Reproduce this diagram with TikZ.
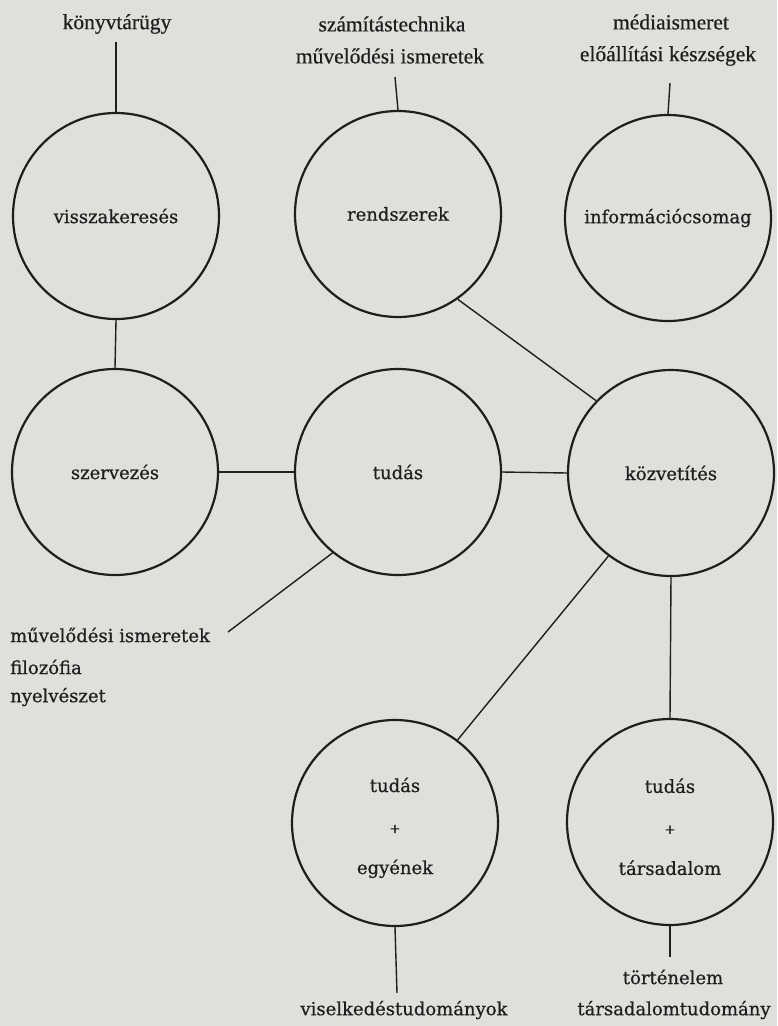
\documentclass[tikz,border=0pt]{standalone}
\usepackage{fontspec}
\setmainfont{DejaVu Serif}[FakeBold=0.6]
\newfontfamily\topfont{Liberation Serif}[FakeBold=0.5]
\definecolor{paper}{HTML}{DFDFDC}
\definecolor{ink}{HTML}{1E1E1E}
\begin{document}
\begin{tikzpicture}[x=1pt,y=-1pt,
  ring/.style={circle,draw=ink,line width=2.2pt,minimum size=206pt,inner sep=0pt,
    font=\fontsize{18}{22}\selectfont,text=ink,align=center},
  stack/.style={font=\fontsize{18}{41}\selectfont},
  link/.style={draw=ink,line width=1.4pt},
  toplabel/.style={font=\topfont\fontsize{21.5}{24}\selectfont,text=ink,inner sep=0pt},
  lowlabel/.style={font=\fontsize{18}{22}\selectfont,text=ink,inner sep=0pt}]
\useasboundingbox (0,0) rectangle (777,1026);
\fill[paper] (0,0) rectangle (777,1026);

% circles
\node[ring] (vk) at (116,216) {visszakeresés};
\node[ring] (rs) at (398,214) {rendszerek};
\node[ring] (ic) at (668,218) {információcsomag};
\node[ring] (sz) at (115,472) {szervezés};
\node[ring] (tu) at (398,472) {tudás};
\node[ring] (kv) at (671,473) {közvetítés};
\node[ring,stack] (eg) at (395,823) {\rule{0pt}{24pt}tudás\\{\fontsize{13}{41}\selectfont +}\\egyének};
\node[ring,stack] (ts) at (670,822) {\rule{0pt}{24pt}tudás\\{\fontsize{13}{41}\selectfont +}\\társadalom};

% top labels
\node[toplabel] (l1) at (117,24) {könyvtárügy};
\node[toplabel] (l2a) at (392,24) {számítástechnika};
\node[toplabel] (l2b) at (390,56) {művelődési ismeretek};
\node[toplabel] (l3a) at (671,22) {médiaismeret};
\node[toplabel] (l3b) at (668,56) {előállítási készségek};

% lower-left labels
\node[lowlabel,anchor=west] (m1) at (10,635) {művelődési ismeretek};
\node[lowlabel,anchor=west] (m2) at (10,667) {filozófia};
\node[lowlabel,anchor=west] (m3) at (10,697) {nyelvészet};

% bottom labels
\node[lowlabel] (b1) at (404,1010) {viselkedéstudományok};
\node[lowlabel] (b2) at (673,977) {történelem};
\node[lowlabel] (b3) at (674,1010) {társadalomtudomány};

% free ends
\coordinate (c1) at (116,42);
\coordinate (c2) at (395,77);
\coordinate (c3) at (670,83);
\coordinate (c4) at (228,632);
\coordinate (c5) at (397,993);
\coordinate (c6) at (670,957);

% connectors
\draw[link] (c1) -- (vk.north);
\draw[link] (c2) -- (rs.north);
\draw[link] (c3) -- (ic.north);
\draw[link] (vk.south) -- (sz.north);
\draw[link] (sz.east) -- (tu.west);
\draw[link] (tu.east) -- (kv.west);
\draw[link] (rs.-55) -- (kv.136);
\draw[link] (tu.231) -- (c4);
\draw[link] (kv.233) -- (eg.53);
\draw[link] (kv.south) -- (ts.north);
\draw[link] (eg.south) -- (c5);
\draw[link] (ts.south) -- (c6);
\end{tikzpicture}
\end{document}
